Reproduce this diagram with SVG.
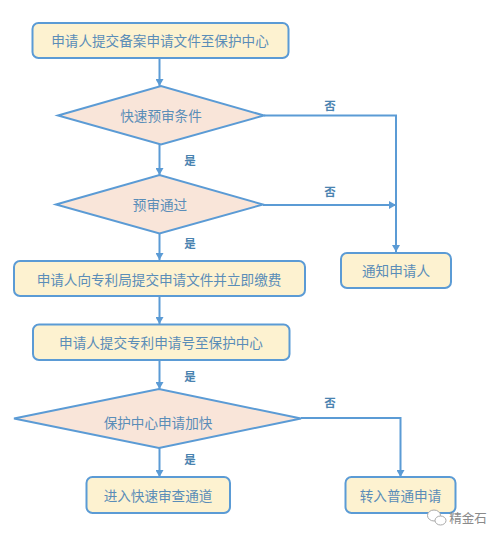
<svg xmlns="http://www.w3.org/2000/svg" width="502" height="540" viewBox="0 0 502 540">
<defs>
<marker id="arrow" markerUnits="userSpaceOnUse" markerWidth="8" markerHeight="8" refX="7" refY="4" orient="auto"><path d="M0,0 L7,4 L0,8 Z" fill="#5b9bd5"/></marker>
</defs>
<style>
.box{fill:#fdf2d0;stroke:#5b9bd5;stroke-width:2}
.dia{fill:#f9e5d9;stroke:#5b9bd5;stroke-width:2}
.t{font-family:"Noto Sans CJK SC","Liberation Sans",sans-serif;font-size:13.6px;fill:#5a8db8;text-anchor:middle}
.l{font-family:"Noto Sans CJK SC","Liberation Sans",sans-serif;font-size:11.5px;font-weight:700;fill:#4a83b0;text-anchor:middle}
.c{fill:none;stroke:#5b9bd5;stroke-width:2;marker-end:url(#arrow)}
</style>
<rect width="502" height="540" fill="#ffffff"/>
<g id="connectors">
<path class="c" d="M159.500,58 V86"/>
<path class="c" d="M159.500,144 V175"/>
<path class="c" d="M159.500,233 V260"/>
<path class="c" d="M159.500,296 V324"/>
<path class="c" d="M159.500,360 V389"/>
<path class="c" d="M159.500,448 V477"/>
<path class="c" d="M264,115.500 H396 V252"/>
<path class="c" d="M263,205 H396"/>
<path class="c" d="M301,418 H400.500 V477"/>
<text class="l" x="190" y="165">是</text>
<text class="l" x="190" y="248">是</text>
<text class="l" x="190" y="381">是</text>
<text class="l" x="190" y="464">是</text>
<text class="l" x="330" y="110">否</text>
<text class="l" x="330" y="196">否</text>
<text class="l" x="330" y="407">否</text>
</g>
<g id="n1"><rect class="box" x="32.500" y="23" width="256" height="35" rx="6"/><text class="t" x="160" y="46">申请人提交备案申请文件至保护中心</text></g>
<g id="n2"><polygon class="dia" points="58,115.500 161,86 264,115.500 161,144.500"/><text class="t" x="161" y="120.500">快速预审条件</text></g>
<g id="n3"><polygon class="dia" points="56,204.500 159.500,175 263,204.500 159.500,233.500"/><text class="t" x="160" y="210">预审通过</text></g>
<g id="n4"><rect class="box" x="14" y="261" width="291" height="35" rx="6"/><text class="t" x="159" y="285">申请人向专利局提交申请文件并立即缴费</text></g>
<g id="n5"><rect class="box" x="341" y="253" width="110" height="35" rx="6"/><text class="t" x="396" y="276">通知申请人</text></g>
<g id="n6"><rect class="box" x="33" y="324.500" width="256.500" height="35.500" rx="6"/><text class="t" x="161" y="348">申请人提交专利申请号至保护中心</text></g>
<g id="n7"><polygon class="dia" points="14,418.500 159,389 301,418.500 159,448"/><text class="t" x="158" y="428">保护中心申请加快</text></g>
<g id="n8"><rect class="box" x="86.500" y="477" width="143.500" height="36" rx="6"/><text class="t" x="158" y="501">进入快速审查通道</text></g>
<g id="n9"><rect class="box" x="345.500" y="477" width="110" height="36" rx="6"/><text class="t" x="400.500" y="501">转入普通申请</text></g>
<g id="watermark">
<ellipse cx="434" cy="515.500" rx="6.500" ry="5.500" fill="#ffffff" stroke="#a9a9a9" stroke-width="1"/>
<ellipse cx="440.500" cy="520.500" rx="5.500" ry="4.500" fill="#ffffff" stroke="#a9a9a9" stroke-width="1"/>
<text x="468" y="523" font-family="'Noto Sans CJK SC','Liberation Sans',sans-serif" font-size="12.500" fill="#8a8a8a" text-anchor="middle">精金石</text>
</g>
</svg>
